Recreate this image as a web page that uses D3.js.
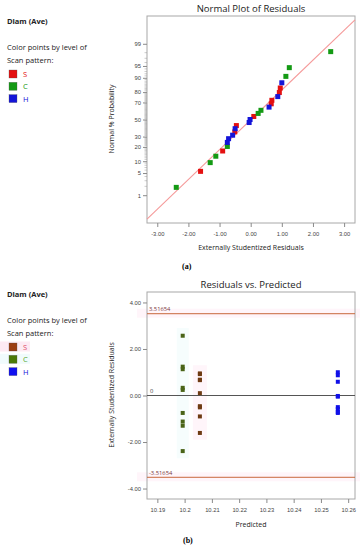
<!DOCTYPE html>
<html>
<head>
<meta charset="utf-8">
<script src="https://cdn.jsdelivr.net/npm/d3@7"></script>
<style>
  body { margin: 0; background: #fff; }
  svg { font-family: "Open Sans", "Noto Sans", sans-serif; }
  .tick-label { font-size: 5.8px; fill: #444; }
  .axis-title { font-size: 7px; fill: #222; }
  .plot-title { font-size: 9.5px; fill: #222; }
  .legend { font-size: 7.5px; fill: #222; }
</style>
</head>
<body>
<div id="chart"></div>
<script>
// ---- data ----
const groups = ["S", "C", "H"];
const residS = [0.95, 0.92, 0.68, 0.66, 0.10, -0.46, -0.51, -0.90, -1.61];
const residC = [2.57, 1.24, 1.13, 0.33, 0.24, -0.75, -1.12, -1.30, -2.39];
const residH = [1.00, 0.87, 0.59, -0.02, -0.05, -0.50, -0.58, -0.71, -0.75];
const predicted = { S: 10.2056, C: 10.1993, H: 10.2562 };

const probTicks = [1, 5, 10, 20, 30, 50, 70, 80, 90, 95, 99];
const residTicks = [-3, -2, -1, 0, 1, 2, 3];
const predTicks = [10.19, 10.2, 10.21, 10.22, 10.23, 10.24, 10.25, 10.26];
const studTicks = [-4, -2, 0, 2, 4];
const limit = 3.51654;
// reference line of the normal plot, two ends (residual, % probability)
const refLine = [[-3.33, 0.11], [3.35, 99.89]];

const colorsTop = { S: "#e41010", C: "#149a14", H: "#1414d8" };
const colorsBot = { S: "#6e3a12", C: "#4a6418", H: "#1010e8" };
const swatchBot = { S: "#9c3e12", C: "#4a7a08", H: "#1010f0" };
const labelTop = { S: "#e41010", C: "#149a14", H: "#1414d8" };
const labelBot = { S: "#e0506a", C: "#5aa830", H: "#1414d8" };

// inverse normal cdf (Acklam)
function probit(p) {
  const a = [-39.69683028665376, 220.9460984245205, -275.9285104469687, 138.3577518672690, -30.66479806614716, 2.506628277459239];
  const b = [-54.47609879822406, 161.5858368580409, -155.6989798598866, 66.80131188771972, -13.28068155288572];
  const c = [-0.007784894002430293, -0.3223964580411365, -2.400758277161838, -2.549732539343734, 4.374664141464968, 2.938163982698783];
  const d = [0.007784695709041462, 0.3224671290700398, 2.445134137142996, 3.754408661907416];
  const pl = 0.02425;
  let q, r;
  if (p < pl) {
    q = Math.sqrt(-2 * Math.log(p));
    return (((((c[0]*q+c[1])*q+c[2])*q+c[3])*q+c[4])*q+c[5]) / ((((d[0]*q+d[1])*q+d[2])*q+d[3])*q+1);
  } else if (p <= 1 - pl) {
    q = p - 0.5; r = q * q;
    return (((((a[0]*r+a[1])*r+a[2])*r+a[3])*r+a[4])*r+a[5])*q / (((((b[0]*r+b[1])*r+b[2])*r+b[3])*r+b[4])*r+1);
  } else {
    q = Math.sqrt(-2 * Math.log(1 - p));
    return -(((((c[0]*q+c[1])*q+c[2])*q+c[3])*q+c[4])*q+c[5]) / ((((d[0]*q+d[1])*q+d[2])*q+d[3])*q+1);
  }
}

const points = [];
[["S", residS], ["C", residC], ["H", residH]].forEach(function(g) {
  g[1].forEach(function(v) { points.push({ group: g[0], resid: v, pred: predicted[g[0]] }); });
});
// normal plot positions from ranks
const sorted = points.slice().sort(function(a, b) { return a.resid - b.resid; });
sorted.forEach(function(d, i) { d.prob = 100 * (i + 0.5) / sorted.length; });

const svg = d3.select("#chart").append("svg")
  .attr("width", 360).attr("height", 550);

function legend(y0, colors, labels, highlight) {
  const g = svg.append("g");
  g.append("text").attr("class", "legend").attr("x", 7).attr("y", y0)
    .style("font-weight", "bold").text("Diam (Ave)");
  g.append("text").attr("class", "legend").attr("x", 7).attr("y", y0 + 26).text("Color points by level of");
  g.append("text").attr("class", "legend").attr("x", 7).attr("y", y0 + 39).text("Scan pattern:");
  groups.forEach(function(k, i) {
    const yy = y0 + 46 + i * 12.3;
    if (highlight && k !== "H") {
      g.append("rect").attr("x", 0).attr("y", yy - 1.5).attr("width", 30).attr("height", 10)
        .attr("fill", k === "S" ? "#fdeaf3" : "#f0fbfc");
    }
    g.append("rect").attr("x", 9).attr("y", yy).attr("width", 8).attr("height", 8)
      .attr("fill", colors[k]).attr("stroke", "#555").attr("stroke-width", 0.3);
    g.append("text").attr("class", "legend").attr("x", 23).attr("y", yy + 7)
      .style("fill", labels[k]).text(k);
  });
}

// ---------- (a) normal plot ----------
const x1 = d3.scaleLinear().domain([-3.33, 3.35]).range([147, 355]);
const z1 = d3.scaleLinear().domain([-3.18, 3.18]).range([223, 16]);
const yP = function(p) { return z1(probit(p / 100)); };

legend(24, colorsTop, labelTop, false);

svg.append("rect").attr("x", 147).attr("y", 16).attr("width", 208).attr("height", 207)
  .attr("fill", "none").attr("stroke", "#a8a8a8").attr("stroke-width", 1);

svg.append("text").attr("class", "plot-title").attr("x", 251).attr("y", 12)
  .attr("text-anchor", "middle").text("Normal Plot of Residuals");

// minor prob ticks
const minor = d3.range(1, 100).filter(function(p) { return probTicks.indexOf(p) < 0; });
svg.append("g").selectAll("line").data(minor).enter().append("line")
  .attr("x1", 144.5).attr("x2", 147).attr("y1", yP).attr("y2", yP)
  .attr("stroke", "#9a9a9a").attr("stroke-width", 0.5);

const yAx1 = svg.append("g").attr("transform", "translate(147,0)")
  .call(d3.axisLeft(z1).tickValues(probTicks.map(function(p) { return probit(p / 100); }))
    .tickFormat(function(d, i) { return probTicks[i]; }).tickSize(4).tickPadding(2));
const xAx1 = svg.append("g").attr("transform", "translate(0,223)")
  .call(d3.axisBottom(x1).tickValues(residTicks).tickFormat(d3.format(".2f")).tickSize(4).tickPadding(5));

[yAx1, xAx1].forEach(function(ax) {
  ax.select(".domain").remove();
  ax.selectAll("line").attr("stroke", "#8a8a8a");
  ax.selectAll("text").attr("class", "tick-label").style("font-family", null).style("font-size", null);
});
xAx1.selectAll("text").text(function(d) { return d3.format(".2f")(d).replace("−", "-"); });

svg.append("line")
  .attr("x1", x1(refLine[0][0])).attr("y1", yP(refLine[0][1]))
  .attr("x2", x1(refLine[1][0])).attr("y2", yP(refLine[1][1]))
  .attr("stroke", "#f59a9a").attr("stroke-width", 1.1);

svg.append("g").selectAll("rect").data(points).enter().append("rect")
  .attr("x", function(d) { return x1(d.resid) - 2.5; })
  .attr("y", function(d) { return yP(d.prob) - 2.5; })
  .attr("width", 5).attr("height", 5)
  .attr("fill", function(d) { return colorsTop[d.group]; });

svg.append("text").attr("class", "axis-title").attr("x", 251).attr("y", 250)
  .attr("text-anchor", "middle").text("Externally Studentized Residuals");
svg.append("text").attr("class", "axis-title")
  .attr("transform", "translate(114,119) rotate(-90)")
  .attr("text-anchor", "middle").text("Normal % Probability");
svg.append("text").attr("x", 182).attr("y", 269)
  .style("font-family", "'Liberation Serif', serif").style("font-size", "8px").style("font-weight", "bold")
  .text("(a)");

// ---------- (b) residuals vs predicted ----------
const x2 = d3.scaleLinear().domain([10.1862, 10.2625]).range([147, 355]);
const y2 = d3.scaleLinear().domain([-4.45, 4.45]).range([499, 292]);

legend(297, swatchBot, labelBot, true);

// faint highlight bands
[limit, -limit].forEach(function(v) {
  svg.append("rect").attr("x", 137).attr("y", y2(v) - 5).attr("width", 223).attr("height", 9)
    .attr("fill", "#fff5fa");
});
svg.append("rect").attr("x", x2(predicted.C) - 6).attr("y", y2(2.9)).attr("width", 12)
  .attr("height", y2(-2.7) - y2(2.9)).attr("fill", "#f6fdfd");
svg.append("rect").attr("x", x2(predicted.S) - 7).attr("y", y2(1.3)).attr("width", 14)
  .attr("height", y2(-1.9) - y2(1.3)).attr("fill", "#fff5fa");

svg.append("rect").attr("x", 147).attr("y", 292).attr("width", 208).attr("height", 207)
  .attr("fill", "none").attr("stroke", "#a8a8a8").attr("stroke-width", 1);

svg.append("text").attr("class", "plot-title").attr("x", 251).attr("y", 288)
  .attr("text-anchor", "middle").text("Residuals vs. Predicted");

const yAx2 = svg.append("g").attr("transform", "translate(147,0)")
  .call(d3.axisLeft(y2).tickValues(studTicks).tickFormat(d3.format(".2f")).tickSize(4).tickPadding(2));
const xAx2 = svg.append("g").attr("transform", "translate(0,499)")
  .call(d3.axisBottom(x2).tickValues(predTicks).tickFormat(function(d) { return d3.format(".2~f")(d); })
    .tickSize(4).tickPadding(5));
[yAx2, xAx2].forEach(function(ax) {
  ax.select(".domain").remove();
  ax.selectAll("line").attr("stroke", "#8a8a8a");
  ax.selectAll("text").attr("class", "tick-label").style("font-family", null).style("font-size", null);
});
yAx2.selectAll("text").text(function(d) { return d3.format(".2f")(d).replace("−", "-"); });

[limit, -limit].forEach(function(v) {
  svg.append("line").attr("x1", 147).attr("x2", 355).attr("y1", y2(v)).attr("y2", y2(v))
    .attr("stroke", "#c8683c").attr("stroke-width", 1);
  svg.append("text").attr("class", "tick-label").attr("x", 149).attr("y", y2(v) - 2.5)
    .style("fill", "#7a3a3a").text(v > 0 ? "3.51654" : "-3.51654");
});
svg.append("line").attr("x1", 147).attr("x2", 355).attr("y1", y2(0)).attr("y2", y2(0))
  .attr("stroke", "#555").attr("stroke-width", 1.2);
svg.append("text").attr("class", "tick-label").attr("x", 150).attr("y", y2(0) - 2.5).text("0");

svg.append("g").selectAll("rect").data(points).enter().append("rect")
  .attr("x", function(d) { return x2(d.pred) - 2; })
  .attr("y", function(d) { return y2(d.resid) - 2; })
  .attr("width", 4).attr("height", 4)
  .attr("fill", function(d) { return colorsBot[d.group]; });

svg.append("text").attr("class", "axis-title").attr("x", 251).attr("y", 527)
  .attr("text-anchor", "middle").text("Predicted");
svg.append("text").attr("class", "axis-title")
  .attr("transform", "translate(114,395) rotate(-90)")
  .attr("text-anchor", "middle").text("Externally Studentized Residuals");
svg.append("text").attr("x", 183).attr("y", 543)
  .style("font-family", "'Liberation Serif', serif").style("font-size", "8px").style("font-weight", "bold")
  .text("(b)");
</script>
</body>
</html>
